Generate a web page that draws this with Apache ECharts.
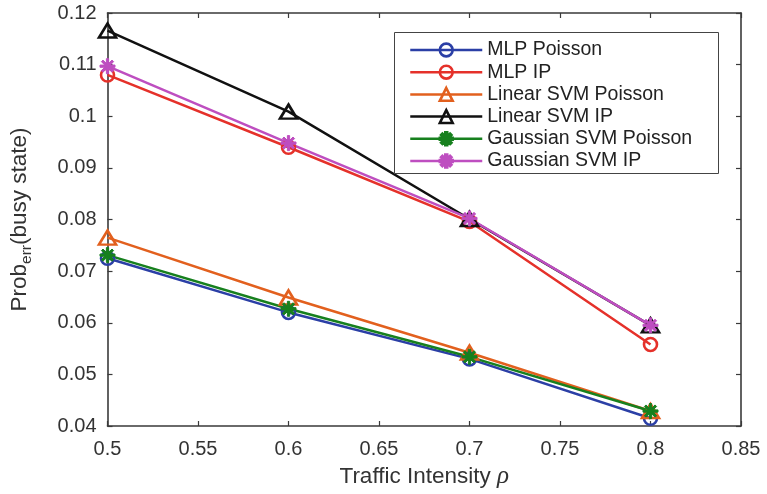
<!DOCTYPE html>
<html>
<head>
<meta charset="utf-8">
<script src="https://cdn.jsdelivr.net/npm/echarts@6/dist/echarts.min.js"></script>
<style>
html,body{margin:0;padding:0;background:#fff;}
#chart{width:767px;height:494px;}
</style>
</head>
<body>
<div id="chart"></div>
<script>
// ---- data ----
var xValues = [0.5, 0.6, 0.7, 0.8];
var seriesNames = ['MLP Poisson', 'MLP IP', 'Linear SVM Poisson', 'Linear SVM IP', 'Gaussian SVM Poisson', 'Gaussian SVM IP'];
var mlpPoisson      = [0.0725, 0.0620, 0.0530, 0.0415];
var mlpIP           = [0.1080, 0.0940, 0.0796, 0.0558];
var linSvmPoisson   = [0.0765, 0.0649, 0.0542, 0.0429];
var linSvmIP        = [0.1166, 0.1009, 0.0801, 0.0595];
var gaussSvmPoisson = [0.0731, 0.0627, 0.0534, 0.0429];
var gaussSvmIP      = [0.1097, 0.0948, 0.0802, 0.0595];
var xTickLabels = ['0.5', '0.55', '0.6', '0.65', '0.7', '0.75', '0.8', '0.85'];
var yTickLabels = ['0.04', '0.05', '0.06', '0.07', '0.08', '0.09', '0.1', '0.11', '0.12'];

// ---- styling ----
var colors = ['#2B3FA6', '#E5312A', '#E2601E', '#111111', '#17801E', '#BE4EC0'];
var FONT = 'Liberation Sans';

function asteriskPath() {
  var L = 10, w = 1.5, parts = [];
  [0, 45, 90, 135].forEach(function (deg) {
    var t = deg * Math.PI / 180, dx = Math.cos(t), dy = Math.sin(t), nx = -dy, ny = dx;
    var p = [
      [L * dx + w * nx, L * dy + w * ny],
      [L * dx - w * nx, L * dy - w * ny],
      [-L * dx - w * nx, -L * dy - w * ny],
      [-L * dx + w * nx, -L * dy + w * ny]
    ];
    parts.push('M' + p.map(function (q) { return q[0].toFixed(3) + ',' + q[1].toFixed(3); }).join(' L') + ' Z');
  });
  return 'path://' + parts.join(' ');
}
var STAR = asteriskPath();

var allData = [mlpPoisson, mlpIP, linSvmPoisson, linSvmIP, gaussSvmPoisson, gaussSvmIP];
var symbols = ['circle', 'circle', 'triangle', 'triangle', STAR, STAR];
var sizes = [13, 13, [17, 14], [17, 14], 15, 15];

var series = allData.map(function (vals, i) {
  var hollow = symbols[i] !== STAR;
  return {
    name: seriesNames[i],
    type: 'line',
    data: vals.map(function (v, k) { return [xValues[k], v]; }),
    symbol: symbols[i],
    symbolSize: sizes[i],
    symbolKeepAspect: true,
    showAllSymbol: true,
    lineStyle: { color: colors[i], width: 2.5 },
    itemStyle: hollow
      ? { color: 'rgba(255,255,255,0)', borderColor: colors[i], borderWidth: 2.6 }
      : { color: colors[i], borderColor: colors[i], borderWidth: 1 },
    emphasis: { disabled: true },
    animation: false
  };
});

var axisLineStyle = { color: '#3a3a3a', width: 1.6 };
var tickStyle = { show: true, inside: true, length: 5, lineStyle: { color: '#3a3a3a', width: 1.2 } };
var labelFont = { fontFamily: FONT, fontSize: 20, color: '#333' };

function fmtX(v) {
  var idx = Math.round((v - 0.5) / 0.05);
  return xTickLabels[idx] !== undefined ? xTickLabels[idx] : '';
}
function fmtY(v) {
  var idx = Math.round((v - 0.04) / 0.01);
  return yTickLabels[idx] !== undefined ? yTickLabels[idx] : '';
}

var chart = echarts.init(document.getElementById('chart'), null, { renderer: 'canvas' });
chart.setOption({
  backgroundColor: '#fff',
  animation: false,
  grid: { left: 105, right: 26, top: 13, bottom: 62, containLabel: false },
  xAxis: [{
    type: 'value', min: 0.5, max: 0.85, interval: 0.05, position: 'bottom',
    axisLine: { show: true, lineStyle: axisLineStyle },
    axisTick: tickStyle,
    splitLine: { show: false },
    axisLabel: Object.assign({ margin: 13, formatter: fmtX }, labelFont),
    name: '{a|Traffic Intensity }{r|ρ}',
    nameLocation: 'middle',
    nameGap: 38,
    nameTextStyle: {
      rich: {
        a: { fontFamily: FONT, fontSize: 22.5, color: '#333' },
        r: { fontFamily: 'Liberation Serif', fontStyle: 'italic', fontSize: 25, color: '#333' }
      }
    }
  }, {
    type: 'value', min: 0.5, max: 0.85, interval: 0.05, position: 'top',
    axisLine: { show: true, onZero: false, lineStyle: axisLineStyle },
    axisTick: tickStyle, axisLabel: { show: false }, splitLine: { show: false }
  }],
  yAxis: [{
    type: 'value', min: 0.04, max: 0.12, interval: 0.01, position: 'left',
    axisLine: { show: true, lineStyle: axisLineStyle },
    axisTick: tickStyle,
    splitLine: { show: false },
    axisLabel: Object.assign({ margin: 11, formatter: fmtY }, labelFont),
    name: '{a|Prob}{b|err}{a|(busy state)}',
    nameLocation: 'middle',
    nameGap: 73,
    nameRotate: 90,
    nameTextStyle: {
      rich: {
        a: { fontFamily: FONT, fontSize: 22.5, color: '#333' },
        b: { fontFamily: FONT, fontSize: 15.5, color: '#333', padding: [14, 0, 0, 0] }
      }
    }
  }, {
    type: 'value', min: 0.04, max: 0.12, interval: 0.01, position: 'right',
    axisLine: { show: true, onZero: false, lineStyle: axisLineStyle },
    axisTick: tickStyle, axisLabel: { show: false }, splitLine: { show: false }
  }],
  graphic: [{
    type: 'rect', left: 394, top: 32, z: 5,
    shape: { width: 324, height: 141 },
    style: { fill: '#fff', stroke: '#444', lineWidth: 1 }
  }],
  legend: {
    orient: 'vertical', left: 394, top: 32, z: 10,
    padding: [8, 10, 5, 15],
    itemWidth: 72, itemHeight: 16, itemGap: 2.2,
    data: seriesNames,
    lineStyle: { width: 2.5 },
    itemStyle: { borderWidth: 2.6 },
    textStyle: { fontFamily: FONT, fontSize: 19.5, color: '#222', lineHeight: 19 },
    selectedMode: false
  },
  series: series
});
</script>
</body>
</html>
